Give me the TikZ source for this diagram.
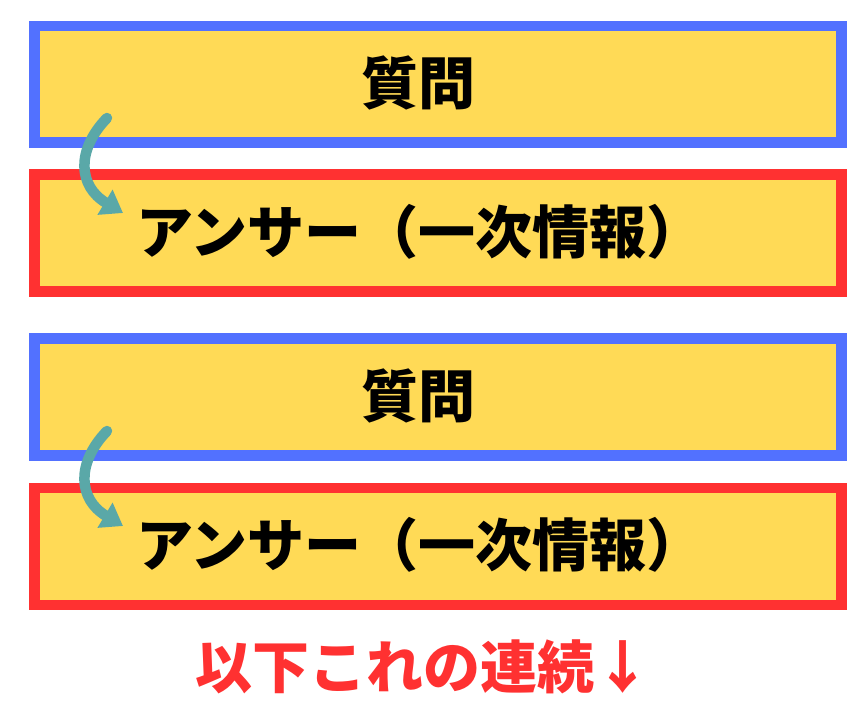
\documentclass[tikz,border=0pt]{standalone}
\usepackage{fontspec}
\usetikzlibrary{arrows.meta}
\newfontfamily\jp{Noto Sans CJK JP}
\definecolor{fillY}{HTML}{FFDA56}
\definecolor{qblue}{HTML}{5271FF}
\definecolor{ared}{HTML}{FF3131}
\definecolor{teal2}{HTML}{5AA8A8}
\tikzset{
  qbox/.style={draw=qblue, fill=fillY, line width=10.3pt},
  abox/.style={draw=ared, fill=fillY, line width=10.3pt},
  lbl/.style={font=\jp\bfseries\fontsize{57}{62}\selectfont, text=black, inner sep=0pt},
  bottomlbl/.style={font=\jp\bfseries\fontsize{57}{62}\selectfont, text=ared, inner sep=0pt},
  curvearrow/.style={draw=teal2, line width=10.5pt, line cap=round, -{Triangle[length=21pt,width=28pt]}}
}
\begin{document}
\begin{tikzpicture}[x=1pt,y=-1pt]
\useasboundingbox (0,0) rectangle (861,713);
% boxes
\draw[qbox] (34.5,26) rectangle (841.5,142.5);
\draw[abox] (34.5,174.5) rectangle (841.5,291.5);
\draw[qbox] (34.5,338.5) rectangle (841.5,455.5);
\draw[abox] (34.5,488) rectangle (841.5,605);
% labels
\node[lbl] (q1) at (418,83) {質問};
\node[lbl] (a1) at (420,232) {アンサー（一次情報）};
\node[lbl] (q2) at (418,396) {質問};
\node[lbl] (a2) at (420,545) {アンサー（一次情報）};
\node[bottomlbl] (foot) at (423,667) {以下これの連続↓};
% arrows
\coordinate (s1) at (107,118);
\coordinate (e1) at (123,213);
\coordinate (s2) at (107,431);
\coordinate (e2) at (123,526);
\draw[curvearrow] (s1) .. controls (76,150) and (78,186) .. (e1);
\draw[curvearrow] (s2) .. controls (76,463) and (78,499) .. (e2);
\end{tikzpicture}
\end{document}
